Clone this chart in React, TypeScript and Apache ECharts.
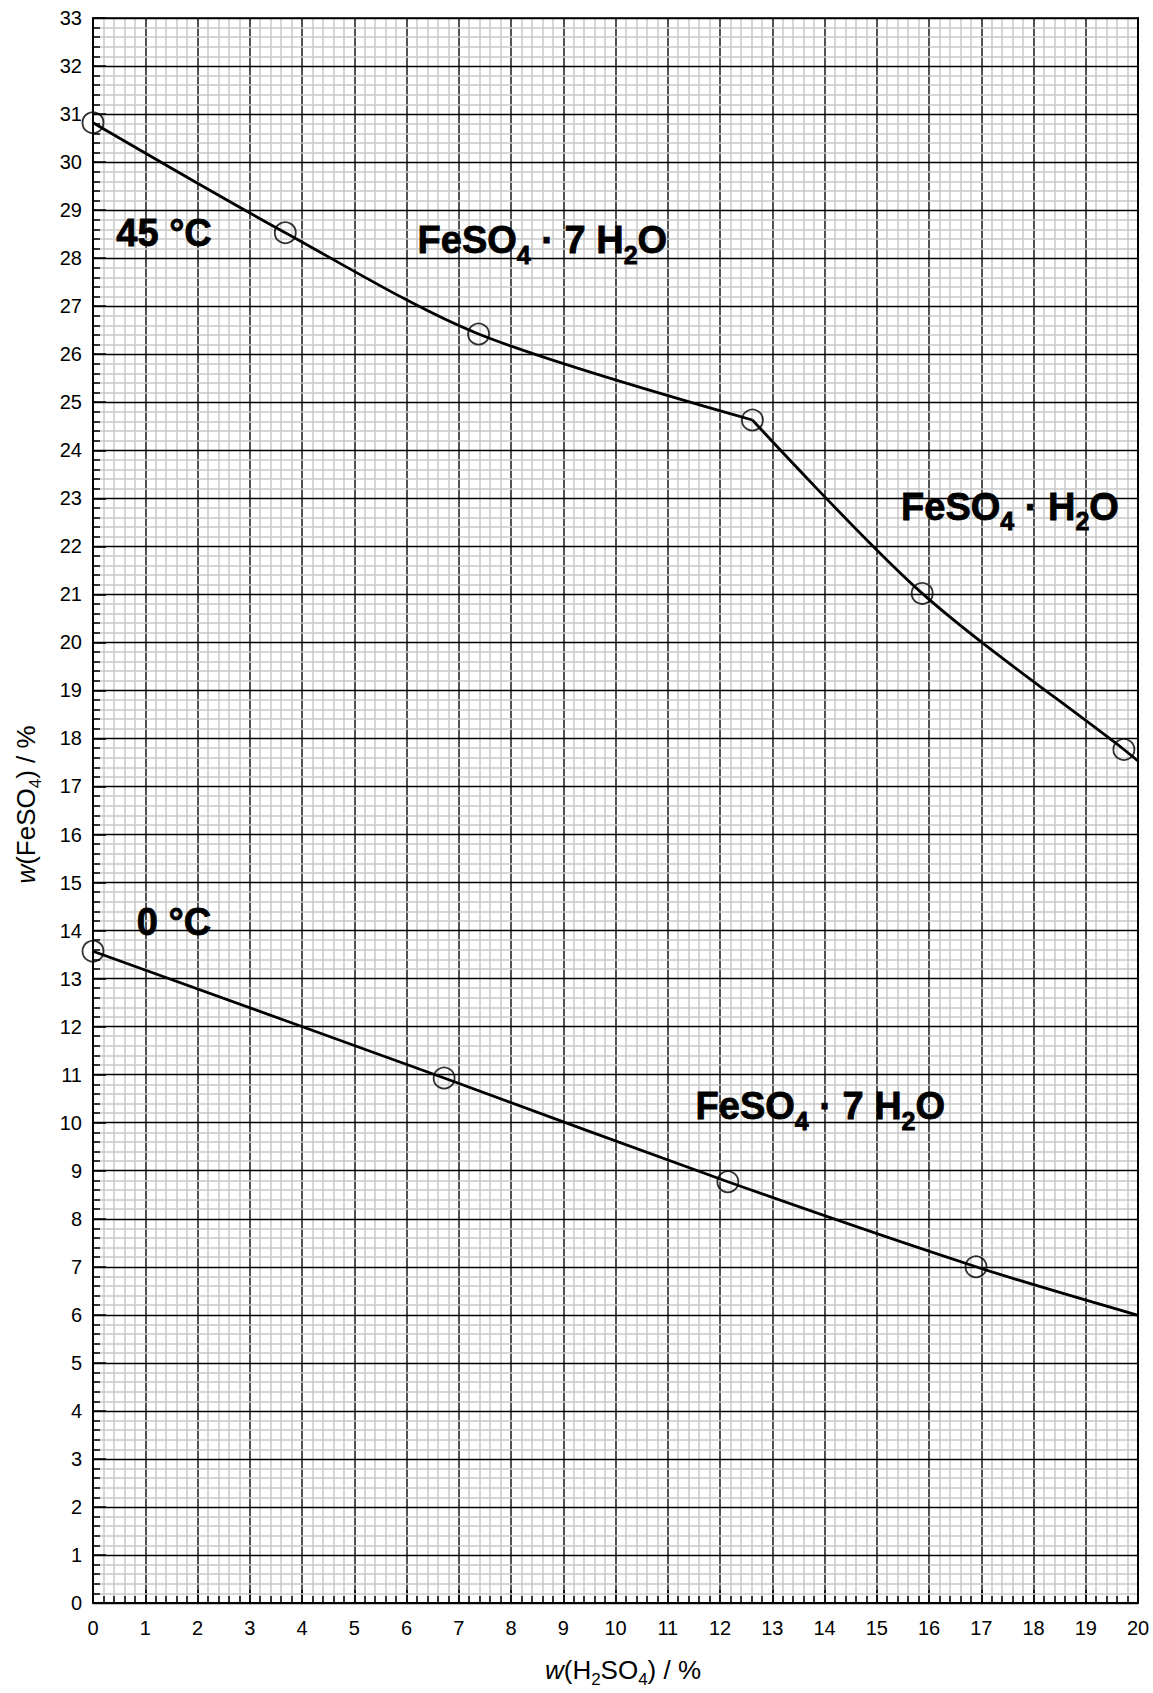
import React, { useEffect, useRef } from 'react';
import * as echarts from 'echarts';

const FONT = '"Liberation Sans", Arial, Helvetica, sans-serif';

// 45 °C measured points
const x45 = [0, 3.68, 7.38, 12.62, 15.87, 19.73];
const y45 = [30.82, 28.53, 26.42, 24.63, 21.02, 17.77];
const kink45 = 3; // index where FeSO4·7H2O changes to FeSO4·H2O
const end45 = [20, 17.53];

// 0 °C measured points
const x0 = [0, 6.72, 12.15, 16.9];
const y0 = [13.57, 10.93, 8.77, 7.0];
const end0 = [20, 5.99];

// annotations
const labelTexts = [
  '{b|45 °C}',
  '{b|FeSO}{s|4}{b| · 7 H}{s|2}{b|O}',
  '{b|FeSO}{s|4}{b| · H}{s|2}{b|O}',
  '{b|0 °C}',
  '{b|FeSO}{s|4}{b| · 7 H}{s|2}{b|O}',
];
const labelX = [1.36, 8.6, 17.55, 1.55, 13.92];
const labelY = [28.53, 28.37, 22.82, 14.18, 10.34];

const xName = '{i|w}(H{s|2}SO{s|4}) / %';
const yName = '{i|w}(FeSO{s|4}) / %';

export default function App() {
  const ref = useRef<HTMLDivElement>(null);
  useEffect(() => {
    const chart = echarts.init(ref.current!, null, { renderer: 'svg' });
    const pts45 = x45.map((x, i) => [x, y45[i]]);
    const pts0 = x0.map((x, i) => [x, y0[i]]);
    const seg45a = pts45.slice(0, kink45 + 1);
    const seg45b = pts45.slice(kink45).concat([end45]);
    const seg0 = pts0.concat([end0]);
    const labelData = labelX.map((x, i) => [x, labelY[i]]);

    const nameStyle = (pad: number[]) => ({
      fontSize: 26,
      color: '#000',
      fontFamily: FONT,
      padding: pad,
      rich: {
        i: { fontStyle: 'italic', fontSize: 26, fontFamily: FONT, color: '#000' },
        s: { fontSize: 17, fontFamily: FONT, color: '#000', padding: [20, 0, 0, 0] },
      },
    });
    const tick = { show: true, inside: true, length: 13, lineStyle: { color: '#000', width: 1.5 } };
    const minorTick = { show: true, splitNumber: 5, length: 7, lineStyle: { color: '#000', width: 1.5 } };
    const minorSplit = { show: true, lineStyle: { color: '#c8c8c8', width: 1.5 } };
    const axisLabel = (m: number) => ({ fontSize: 20, color: '#000', fontFamily: FONT, margin: m });
    const lineStyle = { color: '#000', width: 2.8 };
    const boldText = { fontWeight: 'bold', fontFamily: FONT, color: '#000', textBorderColor: '#000', textBorderWidth: 0.8 };

    chart.setOption({
      animation: false,
      backgroundColor: '#fff',
      grid: { left: 93, right: 15, top: 18, bottom: 86, containLabel: false },
      xAxis: [
        {
          type: 'value', min: 0, max: 20, interval: 1, z: 0,
          name: xName, nameLocation: 'middle', nameGap: 48,
          nameTextStyle: nameStyle([0, 0, 0, 15]),
          axisLine: { show: true, onZero: false, lineStyle: { color: '#000', width: 2 } },
          axisTick: tick, minorTick,
          axisLabel: axisLabel(15),
          splitLine: { show: true, lineStyle: { color: '#333', width: 1.7 } },
          minorSplitLine: minorSplit,
        },
        {
          type: 'value', position: 'top', min: 0, max: 20, z: 5,
          axisLine: { show: true, onZero: false, lineStyle: { color: '#000', width: 1.5 } },
          axisTick: { show: false }, axisLabel: { show: false }, splitLine: { show: false },
        },
      ],
      yAxis: [
        {
          type: 'value', min: 0, max: 33, interval: 1, z: 1,
          name: yName, nameLocation: 'middle', nameGap: 49,
          nameTextStyle: nameStyle([0, 0, 0, 12]),
          axisLine: { show: true, onZero: false, lineStyle: { color: '#000', width: 2 } },
          axisTick: tick, minorTick,
          axisLabel: axisLabel(11),
          splitLine: { show: true, lineStyle: { color: '#000', width: 1.3 } },
          minorSplitLine: minorSplit,
        },
        {
          type: 'value', position: 'right', min: 0, max: 33, z: 5,
          axisLine: { show: true, onZero: false, lineStyle: { color: '#000', width: 2 } },
          axisTick: { show: false }, axisLabel: { show: false }, splitLine: { show: false },
        },
      ],
      series: [
        { type: 'line', data: seg45a, smooth: 0.3, symbol: 'none', silent: true, lineStyle, z: 2 },
        { type: 'line', data: seg45b, smooth: 0.3, symbol: 'none', silent: true, lineStyle, z: 2 },
        { type: 'line', data: seg0, smooth: 0.3, symbol: 'none', silent: true, lineStyle, z: 2 },
        {
          type: 'scatter', data: pts45.concat(pts0), symbol: 'circle', symbolSize: 21, silent: true,
          itemStyle: { color: 'rgba(0,0,0,0)', borderColor: '#000', borderWidth: 1.8 }, z: 3,
        },
        {
          type: 'scatter', data: labelData, symbolSize: 0, silent: true,
          itemStyle: { color: 'rgba(0,0,0,0)' }, z: 4,
          label: {
            show: true, position: 'inside', color: '#000', opacity: 1,
            formatter: (p: any) => labelTexts[p.dataIndex],
            rich: {
              b: { ...boldText, fontSize: 38 },
              s: { ...boldText, fontSize: 25, padding: [29, 0, 0, 0] },
            },
          },
        },
      ],
    });
    return () => chart.dispose();
  }, []);
  return (
    <div
      ref={ref}
      style={{ position: 'absolute', left: 0, top: 0, width: 1153, height: 1693, background: '#fff' }}
    />
  );
}
